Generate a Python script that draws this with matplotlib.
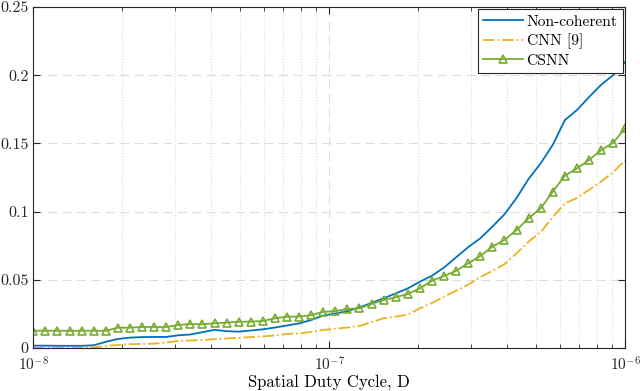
import numpy as np
import matplotlib
matplotlib.use('Agg')
import matplotlib.pyplot as plt
from matplotlib.ticker import FuncFormatter, LogLocator

plt.rcParams['font.family'] = 'cmr10'
plt.rcParams['mathtext.fontset'] = 'cm'
plt.rcParams['axes.formatter.use_mathtext'] = True

# x: spatial duty cycle, 50 log-spaced points from 1e-8 to 1e-6
duty_cycle = np.logspace(-8, -6, 50)

non_coherent = [0.0017, 0.0017, 0.0016, 0.0016, 0.0016, 0.0020, 0.0045, 0.0066, 0.0076, 0.0080,
                0.0081, 0.0081, 0.0093, 0.0099, 0.0116, 0.0133, 0.0123, 0.0120, 0.0128, 0.0137,
                0.0150, 0.0165, 0.0180, 0.0205, 0.0238, 0.0253, 0.0270, 0.0298, 0.0330, 0.0365,
                0.0400, 0.0437, 0.0486, 0.0530, 0.0590, 0.0665, 0.0740, 0.0804, 0.0890, 0.0980,
                0.1100, 0.1240, 0.1354, 0.1490, 0.1671, 0.1745, 0.1840, 0.1930, 0.2001, 0.2099]

cnn = [0.0000, 0.0000, 0.0000, 0.0000, 0.0000, 0.0005, 0.0015, 0.0022, 0.0028, 0.0030,
       0.0032, 0.0040, 0.0052, 0.0055, 0.0058, 0.0065, 0.0070, 0.0075, 0.0080, 0.0085,
       0.0092, 0.0103, 0.0106, 0.0118, 0.0132, 0.0142, 0.0150, 0.0161, 0.0190, 0.0218,
       0.0230, 0.0245, 0.0291, 0.0330, 0.0376, 0.0420, 0.0465, 0.0520, 0.0565, 0.0615,
       0.0694, 0.0780, 0.0850, 0.0960, 0.1060, 0.1100, 0.1160, 0.1220, 0.1290, 0.1378]

csnn = [0.0127, 0.0127, 0.0127, 0.0126, 0.0127, 0.0127, 0.0126, 0.0149, 0.0149, 0.0154,
        0.0154, 0.0154, 0.0169, 0.0176, 0.0174, 0.0181, 0.0186, 0.0193, 0.0193, 0.0198,
        0.0218, 0.0230, 0.0230, 0.0241, 0.0265, 0.0271, 0.0286, 0.0291, 0.0323, 0.0352,
        0.0372, 0.0396, 0.0437, 0.0493, 0.0528, 0.0566, 0.0621, 0.0674, 0.0743, 0.0792,
        0.0865, 0.0951, 0.1024, 0.1146, 0.1263, 0.1317, 0.1378, 0.1451, 0.1505, 0.1613]

fig = plt.figure(figsize=(6.4, 3.91), dpi=100)
ax = fig.add_axes([0.052, 0.110, 0.925, 0.872])

ax.plot(duty_cycle, non_coherent, color='#0072BD', lw=1.3, label='Non-coherent')
ax.plot(duty_cycle, cnn, color='#EDB120', lw=1.3, ls='-.', label='CNN [9]')
ax.plot(duty_cycle, csnn, color='#77AC30', lw=1.3, marker='^', markersize=6,
        markerfacecolor='none', markeredgewidth=1.2, label='CSNN')

ax.set_xscale('log')
ax.set_xlim(1e-8, 1e-6)
ax.set_ylim(0, 0.25)
ax.set_yticks([0, 0.05, 0.1, 0.15, 0.2, 0.25])
ax.yaxis.set_major_formatter(FuncFormatter(lambda v, p: '0' if v == 0 else ('%g' % v)))
ax.xaxis.set_major_locator(LogLocator(base=10, numticks=5))
ax.xaxis.set_minor_locator(LogLocator(base=10, subs=np.arange(2, 10), numticks=20))

ax.grid(True, which='major', color='#dcdcdc', ls=(0, (8, 5)), lw=0.8)
ax.grid(True, which='minor', axis='x', color='#dcdcdc', ls=':', lw=0.8)
ax.set_axisbelow(True)

ax.tick_params(which='both', direction='in', top=True, right=True, colors='#262626')
ax.tick_params(axis='y', labelsize=11.5)
ax.tick_params(axis='x', labelsize=11, pad=5)
ax.tick_params(which='major', length=5, width=0.8)
ax.tick_params(which='minor', length=3, width=0.6)
for s in ax.spines.values():
    s.set_color('#262626')
    s.set_linewidth(0.8)

ax.set_xlabel('Spatial Duty Cycle, D', fontsize=12, labelpad=1)

leg = ax.legend(loc='upper right', fontsize=11.2, fancybox=False, edgecolor='#262626',
                framealpha=1, borderpad=0.35, handlelength=2.6, labelspacing=0.3,
                borderaxespad=0.15, handletextpad=0.2)
leg.get_frame().set_linewidth(0.8)

fig.savefig('out.png', dpi=100)
